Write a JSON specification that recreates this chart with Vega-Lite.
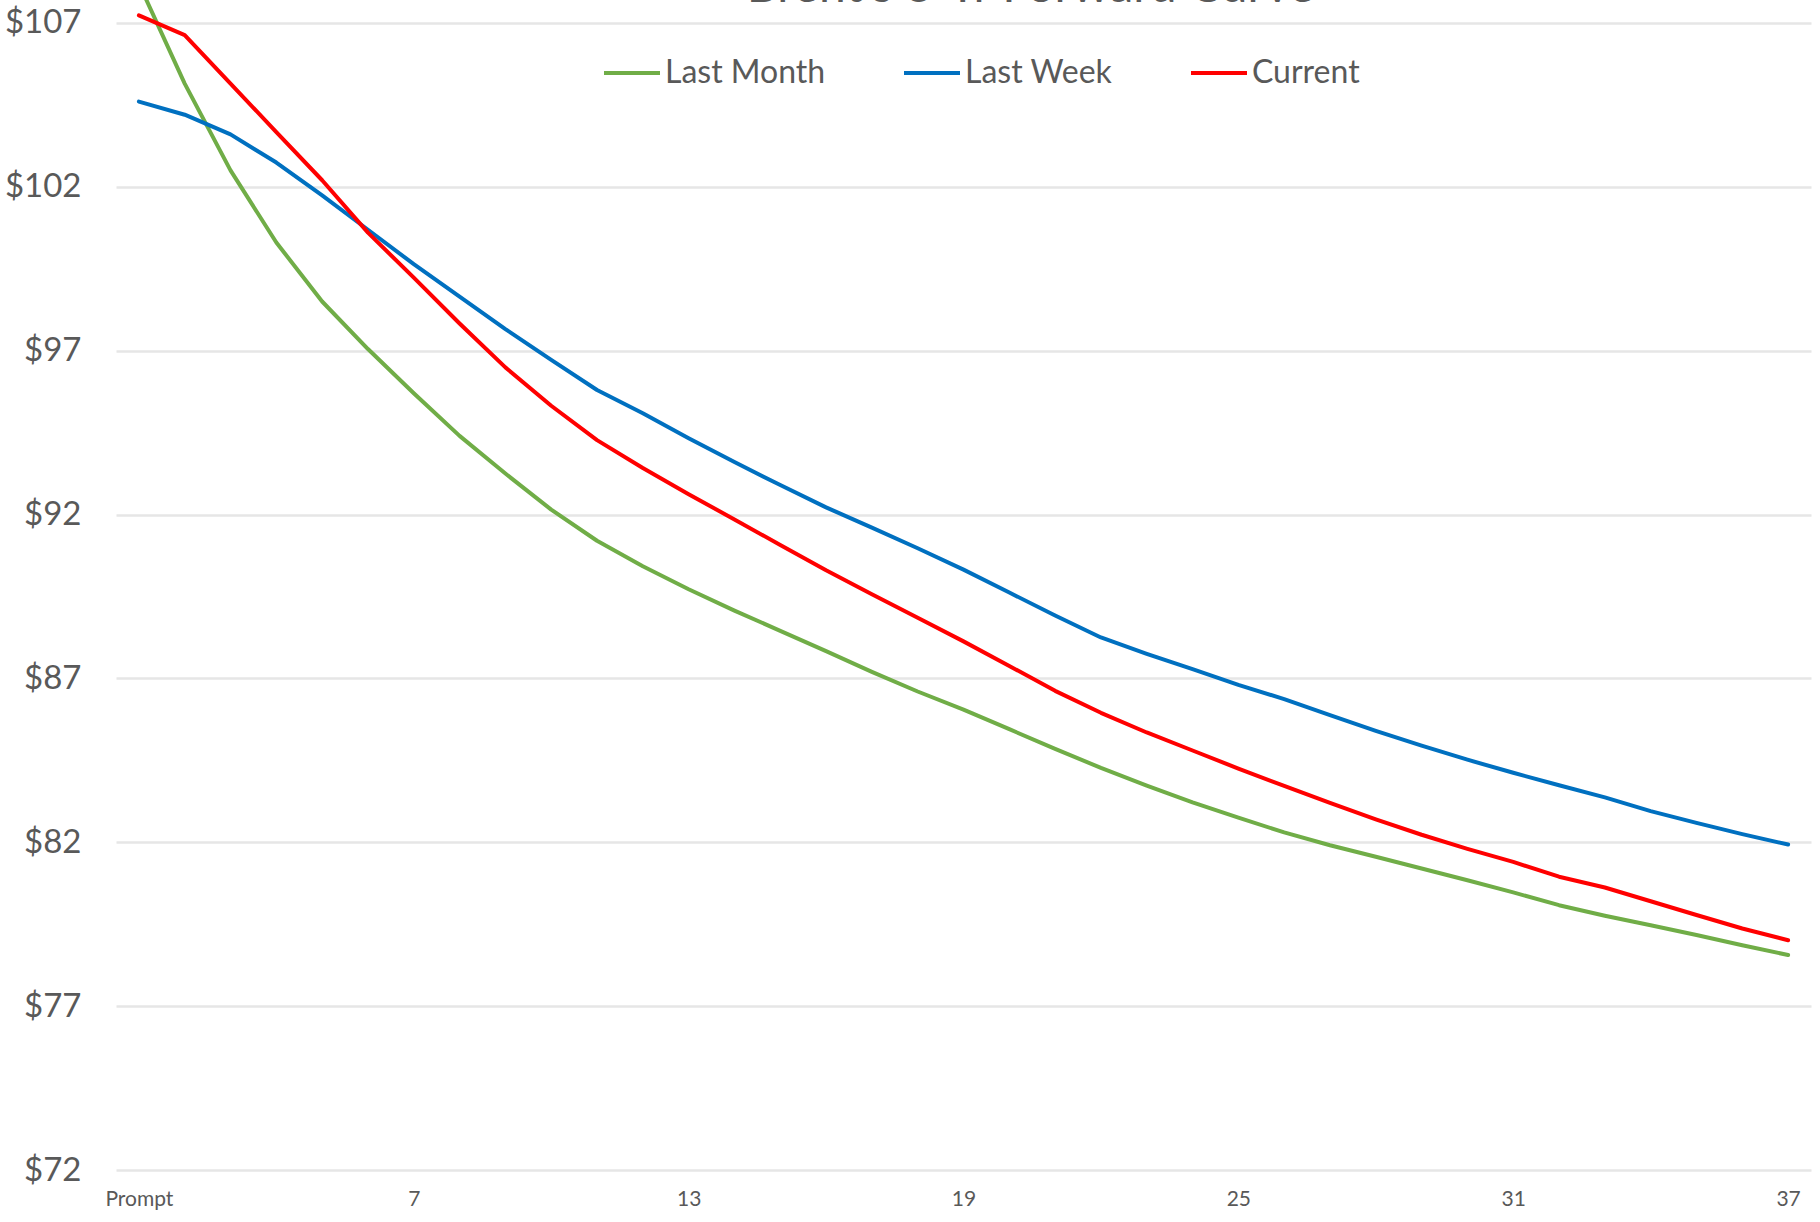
{
  "$schema": "https://vega.github.io/schema/vega-lite/v6.json",
  "autosize": "none",
  "width": 1695,
  "height": 1170,
  "padding": {"left": 116, "right": 9, "top": 0, "bottom": 52},
  "background": "white",
  "title": {"text": "Brent's 3-Yr Forward Curve", "fontSize": 48, "font": "Lato", "fontWeight": "normal", "color": "#595959", "anchor": "middle", "dx": 67, "offset": -12},
  "config": {"view": {"stroke": null}, "font": "Lato"},
  "data": {"values": [
    {"m": 1, "series": "Last Month", "price": 108.2},
    {"m": 2, "series": "Last Month", "price": 105.15},
    {"m": 3, "series": "Last Month", "price": 102.5},
    {"m": 4, "series": "Last Month", "price": 100.3},
    {"m": 5, "series": "Last Month", "price": 98.5},
    {"m": 6, "series": "Last Month", "price": 97.05},
    {"m": 7, "series": "Last Month", "price": 95.7},
    {"m": 8, "series": "Last Month", "price": 94.4},
    {"m": 9, "series": "Last Month", "price": 93.25},
    {"m": 10, "series": "Last Month", "price": 92.15},
    {"m": 11, "series": "Last Month", "price": 91.2},
    {"m": 12, "series": "Last Month", "price": 90.42},
    {"m": 13, "series": "Last Month", "price": 89.72},
    {"m": 14, "series": "Last Month", "price": 89.07},
    {"m": 15, "series": "Last Month", "price": 88.45},
    {"m": 16, "series": "Last Month", "price": 87.83},
    {"m": 17, "series": "Last Month", "price": 87.2},
    {"m": 18, "series": "Last Month", "price": 86.6},
    {"m": 19, "series": "Last Month", "price": 86.05},
    {"m": 20, "series": "Last Month", "price": 85.45},
    {"m": 21, "series": "Last Month", "price": 84.85},
    {"m": 22, "series": "Last Month", "price": 84.27},
    {"m": 23, "series": "Last Month", "price": 83.73},
    {"m": 24, "series": "Last Month", "price": 83.22},
    {"m": 25, "series": "Last Month", "price": 82.75},
    {"m": 26, "series": "Last Month", "price": 82.3},
    {"m": 27, "series": "Last Month", "price": 81.91},
    {"m": 28, "series": "Last Month", "price": 81.56},
    {"m": 29, "series": "Last Month", "price": 81.2},
    {"m": 30, "series": "Last Month", "price": 80.84},
    {"m": 31, "series": "Last Month", "price": 80.47},
    {"m": 32, "series": "Last Month", "price": 80.08},
    {"m": 33, "series": "Last Month", "price": 79.76},
    {"m": 34, "series": "Last Month", "price": 79.47},
    {"m": 35, "series": "Last Month", "price": 79.17},
    {"m": 36, "series": "Last Month", "price": 78.86},
    {"m": 37, "series": "Last Month", "price": 78.56},
    {"m": 1, "series": "Last Week", "price": 104.6},
    {"m": 2, "series": "Last Week", "price": 104.2},
    {"m": 3, "series": "Last Week", "price": 103.6},
    {"m": 4, "series": "Last Week", "price": 102.74},
    {"m": 5, "series": "Last Week", "price": 101.74},
    {"m": 6, "series": "Last Week", "price": 100.69},
    {"m": 7, "series": "Last Week", "price": 99.64},
    {"m": 8, "series": "Last Week", "price": 98.65},
    {"m": 9, "series": "Last Week", "price": 97.66},
    {"m": 10, "series": "Last Week", "price": 96.72},
    {"m": 11, "series": "Last Week", "price": 95.8},
    {"m": 12, "series": "Last Week", "price": 95.09},
    {"m": 13, "series": "Last Week", "price": 94.33},
    {"m": 14, "series": "Last Week", "price": 93.6},
    {"m": 15, "series": "Last Week", "price": 92.9},
    {"m": 16, "series": "Last Week", "price": 92.22},
    {"m": 17, "series": "Last Week", "price": 91.6},
    {"m": 18, "series": "Last Week", "price": 90.97},
    {"m": 19, "series": "Last Week", "price": 90.32},
    {"m": 20, "series": "Last Week", "price": 89.62},
    {"m": 21, "series": "Last Week", "price": 88.92},
    {"m": 22, "series": "Last Week", "price": 88.25},
    {"m": 23, "series": "Last Week", "price": 87.75},
    {"m": 24, "series": "Last Week", "price": 87.28},
    {"m": 25, "series": "Last Week", "price": 86.8},
    {"m": 26, "series": "Last Week", "price": 86.37},
    {"m": 27, "series": "Last Week", "price": 85.88},
    {"m": 28, "series": "Last Week", "price": 85.4},
    {"m": 29, "series": "Last Week", "price": 84.95},
    {"m": 30, "series": "Last Week", "price": 84.52},
    {"m": 31, "series": "Last Week", "price": 84.12},
    {"m": 32, "series": "Last Week", "price": 83.74},
    {"m": 33, "series": "Last Week", "price": 83.37},
    {"m": 34, "series": "Last Week", "price": 82.95},
    {"m": 35, "series": "Last Week", "price": 82.59},
    {"m": 36, "series": "Last Week", "price": 82.25},
    {"m": 37, "series": "Last Week", "price": 81.93},
    {"m": 1, "series": "Current", "price": 107.23},
    {"m": 2, "series": "Current", "price": 106.63},
    {"m": 3, "series": "Current", "price": 105.15},
    {"m": 4, "series": "Current", "price": 103.67},
    {"m": 5, "series": "Current", "price": 102.2},
    {"m": 6, "series": "Current", "price": 100.6},
    {"m": 7, "series": "Current", "price": 99.23},
    {"m": 8, "series": "Current", "price": 97.83},
    {"m": 9, "series": "Current", "price": 96.49},
    {"m": 10, "series": "Current", "price": 95.32},
    {"m": 11, "series": "Current", "price": 94.27},
    {"m": 12, "series": "Current", "price": 93.42},
    {"m": 13, "series": "Current", "price": 92.62},
    {"m": 14, "series": "Current", "price": 91.85},
    {"m": 15, "series": "Current", "price": 91.07},
    {"m": 16, "series": "Current", "price": 90.3},
    {"m": 17, "series": "Current", "price": 89.57},
    {"m": 18, "series": "Current", "price": 88.85},
    {"m": 19, "series": "Current", "price": 88.13},
    {"m": 20, "series": "Current", "price": 87.38},
    {"m": 21, "series": "Current", "price": 86.62},
    {"m": 22, "series": "Current", "price": 85.95},
    {"m": 23, "series": "Current", "price": 85.35},
    {"m": 24, "series": "Current", "price": 84.8},
    {"m": 25, "series": "Current", "price": 84.25},
    {"m": 26, "series": "Current", "price": 83.72},
    {"m": 27, "series": "Current", "price": 83.2},
    {"m": 28, "series": "Current", "price": 82.7},
    {"m": 29, "series": "Current", "price": 82.23},
    {"m": 30, "series": "Current", "price": 81.8},
    {"m": 31, "series": "Current", "price": 81.4},
    {"m": 32, "series": "Current", "price": 80.95},
    {"m": 33, "series": "Current", "price": 80.62},
    {"m": 34, "series": "Current", "price": 80.2},
    {"m": 35, "series": "Current", "price": 79.78},
    {"m": 36, "series": "Current", "price": 79.37},
    {"m": 37, "series": "Current", "price": 79.01}
  ]},
  "mark": {"type": "line", "strokeWidth": 4, "clip": true, "strokeCap": "round", "strokeJoin": "round"},
  "encoding": {
    "x": {
      "field": "m", "type": "quantitative",
      "scale": {"domain": [0.5, 37.5], "nice": false, "zero": false},
      "axis": {
        "title": null, "values": [1, 7, 13, 19, 25, 31, 37],
        "labelExpr": "datum.value == 1 ? 'Prompt' : datum.value",
        "grid": false, "ticks": false, "domain": false,
        "labelFont": "Lato", "labelFontSize": 21, "labelColor": "#595959",
        "labelPadding": 18, "labelFlush": false
      }
    },
    "y": {
      "field": "price", "type": "quantitative",
      "scale": {"domain": [72, 107.7], "nice": false, "zero": false},
      "axis": {
        "title": null, "values": [72, 77, 82, 87, 92, 97, 102, 107],
        "labelExpr": "'$' + datum.value",
        "grid": true, "gridColor": "#e6e6e6", "gridWidth": 2.5,
        "ticks": false, "domain": false,
        "labelFont": "Lato", "labelFontSize": 33, "labelColor": "#595959",
        "labelPadding": 35
      }
    },
    "color": {
      "field": "series", "type": "nominal",
      "scale": {"domain": ["Last Month", "Last Week", "Current"], "range": ["#70ad47", "#0070c0", "#ff0000"]},
      "legend": {
        "title": null, "orient": "none", "direction": "horizontal",
        "legendX": 486, "legendY": 43,
        "symbolType": "stroke", "symbolSize": 3136, "symbolStrokeWidth": 4,
        "labelFont": "Lato", "labelFontSize": 32, "labelColor": "#595959", "labelLimit": 0,
        "labelOffset": 3, "columnPadding": 70, "padding": 0
      }
    }
  }
}
